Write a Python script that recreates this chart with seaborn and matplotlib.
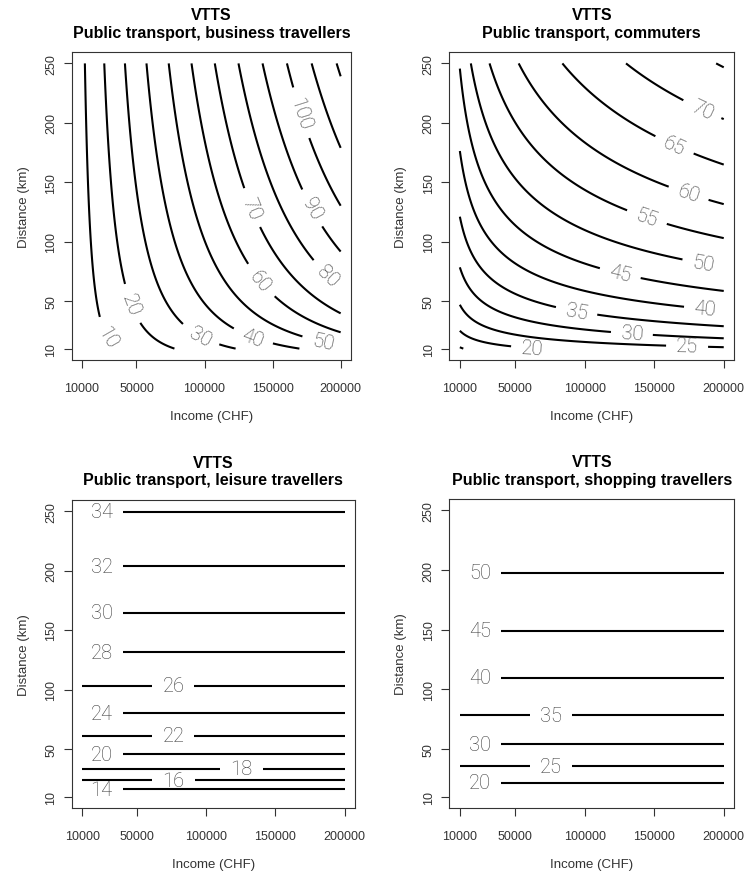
import numpy as np
import matplotlib
matplotlib.use("Agg")
import matplotlib.pyplot as plt
import seaborn as sns

# --- axes ranges and ticks -------------------------------------------------
income_range = (10000, 200000)
distance_range = (10, 250)
income_ticks = [10000, 50000, 100000, 150000, 200000]
distance_ticks = [10, 50, 100, 150, 200, 250]

titles = [
    "Public transport, business travellers",
    "Public transport, commuters",
    "Public transport, leisure travellers",
    "Public transport, shopping travellers",
]

# VTTS surface:
# vtts = offset + scale * (income / 100000) ** income_elasticity * (distance / 100) ** distance_elasticity
vtts_offset = [0.0, 0.0, -6.45, -11.92]
vtts_scale = [49.85, 48.38, 32.19, 50.48]
income_elasticity = [0.89, 0.17, 0.0, 0.0]
distance_elasticity = [0.30, 0.355, 0.25, 0.30]

# contour levels drawn in each panel
levels_business = [10, 20, 30, 40, 50, 60, 70, 80, 90, 100, 110, 120]
levels_commuters = [15, 20, 25, 30, 35, 40, 45, 50, 55, 60, 65, 70, 75]
levels_leisure = [14, 16, 18, 20, 22, 24, 26, 28, 30, 32, 34]
levels_shopping = [20, 25, 30, 35, 40, 45, 50]

# where the labels sit (income, distance)
label_at_business = [(28300, 20), (44900, 47), (95500, 18), (135000, 18), (186500, 14),
                     (140000, 66), (131400, 127), (187700, 68), (176900, 127), (169700, 208)]
label_at_commuters = [(62000, 11), (173600, 12), (134000, 25), (94400, 44), (186500, 44),
                      (125600, 74), (185500, 84), (144800, 121), (174800, 141), (164000, 180),
                      (184400, 211)]
label_at_leisure = [(24000, 16), (76100, 24), (125400, 33), (24000, 46), (76100, 62),
                    (24000, 82), (76100, 105), (24000, 134), (24000, 166), (24000, 205),
                    (24000, 249)]
label_at_shopping = [(24500, 21), (75300, 35), (24500, 55), (75300, 81), (24500, 112),
                     (24500, 151), (24500, 197)]

all_levels = [levels_business, levels_commuters, levels_leisure, levels_shopping]
all_label_at = [label_at_business, label_at_commuters, label_at_leisure, label_at_shopping]

# axes boxes in pixels (left, top, right, bottom) on a 744x878 canvas
W, H = 744, 878
boxes = [(71.7, 53, 351, 361), (449.3, 53, 734.3, 361),
         (71.7, 500.7, 355, 809), (449.3, 500, 734.3, 809)]

sns.set_theme(style="ticks")
plt.rcParams["font.family"] = ["Liberation Sans", "DejaVu Sans"]

fig = plt.figure(figsize=(W / 100, H / 100), dpi=100)

inc = np.linspace(*income_range, 300)
dist = np.linspace(*distance_range, 300)
I, D = np.meshgrid(inc, dist)

pad_x = 0.04 * (income_range[1] - income_range[0])
pad_y = 0.04 * (distance_range[1] - distance_range[0])

for k in range(4):
    l, t, r, b = boxes[k]
    ax = fig.add_axes([l / W, 1 - b / H, (r - l) / W, (b - t) / H])
    ax.set_xlim(income_range[0] - pad_x, income_range[1] + pad_x)
    ax.set_ylim(distance_range[0] - pad_y, distance_range[1] + pad_y)

    vtts = (vtts_offset[k] + vtts_scale[k] * (I / 100000) ** income_elasticity[k]
            * (D / 100) ** distance_elasticity[k])

    cs = ax.contour(I, D, vtts, levels=all_levels[k], colors="black", linewidths=1.5)
    with plt.rc_context({"font.family": ["Roboto", "DejaVu Sans"], "font.weight": "light"}):
        ax.clabel(cs, inline=True, inline_spacing=10,
                  fontsize=14.5, colors="#3c3c3c", fmt="%d", manual=all_label_at[k])

    ax.set_xticks(income_ticks)
    ax.set_xticklabels([str(v) for v in income_ticks])
    ax.set_yticks(distance_ticks)
    ax.set_yticklabels([str(v) for v in distance_ticks], rotation=90, va="center")
    ax.tick_params(axis="x", length=5.5, width=0.8, pad=10, labelsize=9,
                   colors="#333333", direction="out")
    ax.tick_params(axis="y", length=5.5, width=0.8, pad=5, labelsize=9,
                   colors="#333333", direction="out")
    for s in ax.spines.values():
        s.set_color("#333333")
        s.set_linewidth(0.8)

    ax.set_xlabel("Income (CHF)", fontsize=9.5, color="#333333", labelpad=12)
    ax.set_ylabel("Distance (km)", fontsize=9.5, color="#333333", labelpad=11)
    ax.set_title("VTTS\n" + titles[k], fontsize=11.5, fontweight="bold",
                 linespacing=1.2, pad=11, color="black")

fig.savefig("out.png", dpi=100, facecolor="white")
